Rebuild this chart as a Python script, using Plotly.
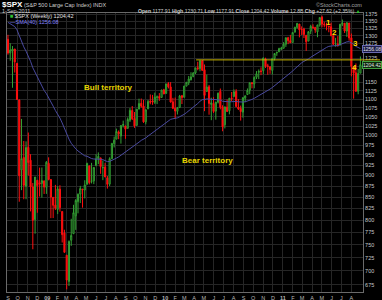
import math
import pandas as pd
import plotly.graph_objects as go

# ---------------- data (weekly S&P 500, week starting Monday) ----------------
first_week = "2008-09-01"
n_weeks = 157

opens = [
    1287.8, 1242.3, 1249.0, 1255.4, 1209.0, 1097.6, 912.8, 943.5, 874.3, 968.7,
    936.8, 873.2, 801.2, 888.6, 882.7, 881.1, 887.2, 872.4, 929.2, 890.4,
    849.6, 832.5, 823.1, 868.2, 818.5, 773.3, 729.6, 680.8, 758.8, 772.0,
    809.1, 839.8, 856.9, 868.3, 866.2, 879.2, 923.0, 886.1, 887.0, 923.3,
    940.4, 942.5, 918.1, 919.9, 894.3, 879.6, 940.4, 978.6, 990.2, 1008.9,
    998.2, 1026.6, 1025.2, 1018.7, 1040.8, 1067.9, 1045.4, 1026.9, 1071.6, 1088.2,
    1080.4, 1036.2, 1072.3, 1094.1, 1094.9, 1091.1, 1105.5, 1107.9, 1105.0, 1127.5,
    1116.6, 1146.0, 1136.0, 1092.4, 1073.9, 1065.5, 1076.0, 1110.0, 1105.4, 1138.4,
    1148.5, 1157.2, 1167.7, 1178.7, 1194.9, 1192.1, 1217.1, 1188.6, 1122.3, 1136.5,
    1084.8, 1087.3, 1065.8, 1091.2, 1122.8, 1077.5, 1028.1, 1077.2, 1066.9, 1102.9,
    1107.5, 1122.8, 1077.5, 1073.4, 1062.9, 1102.6, 1113.4, 1126.6, 1148.6, 1145.0,
    1165.3, 1180.5, 1184.7, 1185.7, 1223.2, 1200.4, 1198.1, 1186.6, 1223.9, 1242.5,
    1245.8, 1254.7, 1257.6, 1271.0, 1293.2, 1283.3, 1276.5, 1311.9, 1328.7, 1340.4,
    1321.6, 1322.7, 1301.2, 1281.7, 1315.5, 1329.5, 1329.0, 1313.4, 1337.1, 1365.2,
    1340.2, 1334.8, 1333.1, 1331.1, 1300.3, 1271.3, 1271.5, 1268.4, 1339.6, 1343.3,
    1315.9, 1344.3, 1292.6, 1198.5, 1179.2, 1123.2, 1177.9]

highs = [
    1303.0, 1274.4, 1265.0, 1255.4, 1209.0, 1099.2, 1044.3, 985.4, 984.4, 1007.5,
    951.7, 882.3, 896.2, 888.6, 918.6, 918.9, 887.4, 934.7, 943.9, 890.4,
    849.6, 877.9, 875.0, 877.0, 818.5, 780.1, 729.6, 758.3, 803.0, 833.0,
    845.6, 858.1, 875.6, 868.3, 888.7, 930.2, 923.0, 930.2, 920.0, 951.7,
    956.2, 942.5, 936.0, 930.2, 898.7, 944.0, 979.4, 996.7, 1018.0, 1013.1,
    1027.6, 1039.5, 1025.2, 1048.2, 1074.8, 1080.2, 1063.4, 1071.5, 1101.4, 1101.8,
    1097.8, 1071.5, 1097.6, 1113.7, 1112.4, 1119.1, 1110.7, 1117.7, 1128.0, 1130.4,
    1145.4, 1150.4, 1150.5, 1103.7, 1104.7, 1077.6, 1112.4, 1112.3, 1139.0, 1150.2,
    1169.2, 1180.7, 1181.4, 1194.7, 1213.9, 1217.3, 1219.8, 1205.1, 1173.6, 1141.9,
    1104.3, 1105.7, 1092.2, 1119.1, 1131.2, 1082.6, 1078.2, 1099.1, 1103.5, 1121.0,
    1128.7, 1129.2, 1100.1, 1081.6, 1105.1, 1110.9, 1131.5, 1148.9, 1150.3, 1167.7,
    1184.4, 1189.4, 1196.1, 1227.1, 1226.8, 1207.4, 1198.9, 1225.6, 1240.9, 1246.7,
    1259.4, 1262.6, 1278.2, 1293.2, 1296.1, 1302.7, 1311.0, 1330.8, 1344.1, 1340.4,
    1332.3, 1327.7, 1301.2, 1315.1, 1337.9, 1339.5, 1329.0, 1337.5, 1364.6, 1370.6,
    1348.4, 1345.1, 1333.1, 1345.2, 1300.3, 1292.5, 1298.6, 1341.0, 1356.5, 1343.3,
    1347.0, 1344.3, 1307.4, 1198.5, 1208.5, 1190.7, 1230.7]

lows = [
    1236.8, 1217.2, 1133.5, 1179.8, 1097.6, 839.8, 865.8, 845.3, 845.3, 899.7,
    818.7, 741.0, 772.1, 815.7, 851.4, 849.0, 857.1, 857.3, 888.3, 804.3,
    804.5, 821.7, 812.9, 818.1, 754.3, 734.5, 666.8, 672.9, 747.7, 772.0,
    779.8, 814.5, 836.9, 826.8, 847.1, 879.2, 878.9, 881.2, 879.6, 923.3,
    927.0, 903.8, 888.9, 895.9, 869.3, 875.3, 940.4, 968.7, 990.2, 990.0,
    978.5, 1021.0, 991.0, 1017.9, 1036.0, 1041.2, 1020.0, 1025.2, 1071.6, 1075.7,
    1033.4, 1029.4, 1072.3, 1085.3, 1083.7, 1086.3, 1085.9, 1095.0, 1105.0, 1114.8,
    1116.6, 1131.4, 1090.2, 1071.6, 1044.5, 1056.5, 1076.0, 1086.0, 1105.4, 1138.4,
    1141.5, 1156.0, 1165.1, 1175.1, 1186.9, 1183.7, 1185.5, 1065.8, 1122.3, 1055.9,
    1040.8, 1060.7, 1042.2, 1087.7, 1071.0, 1010.9, 1018.4, 1063.3, 1056.9, 1094.7,
    1107.5, 1076.6, 1069.3, 1039.7, 1047.8, 1091.2, 1113.4, 1114.6, 1131.9, 1131.9,
    1159.7, 1159.7, 1171.7, 1174.3, 1194.1, 1173.0, 1176.0, 1173.6, 1218.2, 1232.9,
    1245.8, 1251.5, 1257.6, 1262.2, 1271.3, 1275.1, 1276.5, 1311.7, 1324.6, 1294.3,
    1302.6, 1292.0, 1249.1, 1281.7, 1305.3, 1322.9, 1309.6, 1294.7, 1331.1, 1329.2,
    1329.2, 1318.5, 1311.8, 1297.9, 1268.5, 1262.7, 1262.9, 1267.6, 1333.2, 1309.4,
    1295.9, 1282.9, 1168.1, 1101.5, 1121.1, 1114.2, 1177.9]

closes = [
    1242.3, 1251.7, 1255.1, 1213.3, 1099.2, 899.2, 940.6, 876.8, 968.8, 931.0,
    873.3, 800.0, 896.2, 876.1, 879.7, 887.9, 872.8, 931.8, 890.4, 850.1,
    832.0, 825.9, 868.6, 826.8, 770.1, 735.1, 683.4, 756.6, 768.5, 815.9,
    842.5, 856.6, 869.6, 866.2, 877.5, 929.2, 882.9, 887.0, 919.1, 940.1,
    946.2, 921.2, 918.9, 896.4, 879.1, 940.4, 979.3, 987.5, 1010.5, 1004.1,
    1026.1, 1028.9, 1016.4, 1042.7, 1068.3, 1044.4, 1025.2, 1071.5, 1087.7, 1079.6,
    1036.2, 1069.3, 1093.5, 1091.4, 1091.5, 1106.0, 1106.4, 1102.5, 1126.5, 1115.1,
    1145.0, 1136.0, 1091.8, 1073.9, 1066.2, 1075.5, 1109.2, 1104.5, 1138.7, 1150.0,
    1159.9, 1166.6, 1178.1, 1194.4, 1192.1, 1217.3, 1186.7, 1110.9, 1135.7, 1087.7,
    1089.4, 1064.9, 1091.6, 1117.5, 1076.8, 1022.6, 1078.0, 1064.9, 1102.7, 1101.6,
    1121.6, 1079.3, 1071.7, 1064.6, 1104.5, 1109.6, 1125.6, 1148.7, 1146.2, 1165.2,
    1176.2, 1183.1, 1183.3, 1225.9, 1199.2, 1199.7, 1189.4, 1224.7, 1240.4, 1243.9,
    1256.8, 1257.6, 1271.5, 1293.2, 1283.4, 1276.3, 1310.9, 1329.2, 1343.0, 1319.9,
    1321.2, 1304.3, 1279.2, 1313.8, 1332.4, 1328.2, 1319.7, 1337.4, 1363.6, 1340.2,
    1337.8, 1333.3, 1331.1, 1300.2, 1271.0, 1271.5, 1268.5, 1339.7, 1343.8, 1316.1,
    1345.0, 1292.3, 1199.4, 1178.8, 1123.5, 1176.8, 1204.4]

# weekly closes before the visible window (used only to warm up the moving average)
prior_closes = [
    1504.7, 1468.0, 1484.5, 1478.5, 1411.6, 1401.0, 1325.2, 1330.6, 1395.4, 1331.3,
    1350.0, 1353.1, 1330.6, 1293.4, 1288.1, 1329.5, 1315.2, 1370.4, 1332.8, 1390.3,
    1397.8, 1413.9, 1388.3, 1425.4, 1375.9, 1400.4, 1360.7, 1360.0, 1317.9, 1278.4,
    1262.9, 1239.5, 1260.7, 1257.8, 1260.3, 1296.3, 1298.2, 1292.2, 1282.8]
ma_period = 40

month_starts = pd.date_range("2008-09-01", "2011-08-01", freq="MS")
month_labels = ["S", "O", "N", "D", "<b>09</b>", "F", "M", "A", "M", "J", "J", "A",
                "S", "O", "N", "D", "<b>10</b>", "F", "M", "A", "M", "J", "J", "A",
                "S", "O", "N", "D", "<b>11</b>", "F", "M", "A", "M", "J", "J", "A"]
price_ticks = [675, 700, 725, 750, 775, 800, 825, 850, 875, 900, 925, 950, 975, 1000,
               1025, 1050, 1075, 1100, 1125, 1150, 1175, 1200, 1225, 1250, 1275,
               1300, 1325, 1350, 1375]
hidden_ticks = [1175, 1200, 1250]  # covered by the value tags

resistance_level = 1219.8
resistance_start = "2010-04-07"

header = dict(symbol="$SPX", name="(S&P 500 Large Cap Index) INDX", date="1-Sep-2011",
              open="1177.91", high="1230.71", low="1177.91", close="1204.42",
              volume="12.8B", chg="+27.62 (+2.35%)", ma_last="1256.08")

# ---------------- figure ----------------
dates = pd.date_range(first_week, periods=n_weeks, freq="7D")
x_range = [pd.Timestamp("2008-08-29"), pd.Timestamp("2011-09-06")]
y_range = [662.2, 1380.0]

all_closes = pd.Series(prior_closes + closes)
ma = all_closes.ewm(span=ma_period, adjust=False).mean().iloc[len(prior_closes):].values

fig = go.Figure()
fig.add_trace(go.Candlestick(
    x=dates, open=opens, high=highs, low=lows, close=closes,
    increasing=dict(line=dict(color="#34a234", width=1), fillcolor="#000000"),
    decreasing=dict(line=dict(color="#ff1010", width=1), fillcolor="#ff0000"),
    whiskerwidth=0, showlegend=False, hoverinfo="skip"))
fig.add_trace(go.Scatter(x=dates, y=ma, mode="lines",
                         line=dict(color="#4a4aa0", width=1),
                         showlegend=False, hoverinfo="skip"))

PL, PR, PT, PB = 7, 363, 13, 292
W, H = 382, 300


def fx(p):
    return (p - PL) / (PR - PL)


def fy(p):
    return (PB - p) / (PB - PT)


def date_frac(d):
    d = pd.Timestamp(d)
    return (d - x_range[0]) / (x_range[1] - x_range[0])


def price_frac(v):
    lo, hi = math.log10(y_range[0]), math.log10(y_range[1])
    return (math.log10(v) - lo) / (hi - lo)


shapes = [
    dict(type="line", xref="paper", yref="paper",
         x0=date_frac(resistance_start), x1=fx(380),
         y0=price_frac(resistance_level), y1=price_frac(resistance_level),
         line=dict(color="#c8b400", width=1), layer="above"),
    dict(type="line", xref="paper", yref="paper", x0=fx(0), x1=fx(PL),
         y0=1, y1=1, line=dict(color="#6a6a6a", width=1)),
]

FONT = "Liberation Sans"
ann = []


def txt(x, y, text, size=6, color="#cfcfcf", xanchor="left", bold=False, **kw):
    ann.append(dict(xref="paper", yref="paper", x=fx(x), y=fy(y), text=(f"<b>{text}</b>" if bold else text),
                    showarrow=False, xanchor=xanchor, yanchor="middle",
                    font=dict(family=FONT, size=size, color=color), **kw))


# header
txt(0, 4, header["symbol"], size=8, color="#ffffff", bold=True)
txt(22, 4.5, header["name"], size=5.5, color="#cfcfcf")
txt(0, 10.8, header["date"], size=5.5, color="#cfcfcf")
txt(364, 4.5, "©StockCharts.com", size=5.5, color="#a0a0a0", xanchor="right")
info = (f"<b>Open</b> {header['open']} <b>High</b> {header['high']} <b>Low</b> {header['low']} "
        f"<b>Close</b> {header['close']} <b>Volume</b> {header['volume']} <b>Chg</b> {header['chg']} "
        f"<span style='color:#30c030'>▲</span>")
txt(363, 10.5, info, size=5.1, color="#cfcfcf", xanchor="right")

# in-plot legend
txt(8, 16.5, "<span style='color:#30c030'>■</span> $SPX (Weekly) " + header["close"], size=5.5, color="#e0e0e0")
txt(8, 21.5, "—SMA(" + str(ma_period) + ") " + header["ma_last"], size=5.5, color="#8080ff")

# region labels
ann.append(dict(x=pd.Timestamp("2009-07-09"), y=math.log10(1133.6), xref="x", yref="y",
                text="<b>Bull territory</b>", showarrow=False,
                font=dict(family=FONT, size=8, color="#e6d400")))
ann.append(dict(x=pd.Timestamp("2010-05-13"), y=math.log10(936), xref="x", yref="y",
                text="<b>Bear territory</b>", showarrow=False,
                font=dict(family=FONT, size=8, color="#e6d400")))
for lab, d, v in [("1", "2011-05-22", 1346), ("2", "2011-06-10", 1311),
                  ("3", "2011-08-13", 1273), ("4", "2011-08-10", 1195)]:
    ann.append(dict(x=pd.Timestamp(d), y=math.log10(v), xref="x", yref="y",
                    text=f"<b>{lab}</b>", showarrow=False,
                    font=dict(family=FONT, size=8, color="#ffd800")))

# value tags on the right axis
for val, bg, bd in [(float(header["ma_last"]), "#1c1c48", "#6a6ab0"),
                    (float(header["close"]), "#0c2a0c", "#40a040")]:
    ann.append(dict(xref="paper", yref="y", x=fx(381.5), y=math.log10(val),
                    text=f"{val:.2f}", showarrow=False, xanchor="right", yanchor="middle",
                    bgcolor=bg, bordercolor=bd, borderwidth=1, borderpad=0,
                    font=dict(family=FONT, size=5, color="#e0e0e0")))

fig.update_layout(
    width=W, height=H, margin=dict(l=PL, r=W - PR, t=PT, b=H - PB, autoexpand=False),
    paper_bgcolor="#000000", plot_bgcolor="#000000",
    shapes=shapes, annotations=ann,
    xaxis=dict(type="date", range=x_range, rangeslider=dict(visible=False),
               tickvals=month_starts, ticktext=month_labels, ticks="",
               tickfont=dict(family=FONT, size=5.5, color="#b8b8b8"),
               showgrid=True, gridcolor="#262626", gridwidth=1,
               showline=True, mirror=True, linecolor="#6a6a6a", linewidth=1,
               zeroline=False, automargin=False),
    yaxis=dict(type="log", range=[math.log10(y_range[0]), math.log10(y_range[1])],
               side="right", tickvals=price_ticks,
               ticktext=["" if t in hidden_ticks else str(t) for t in price_ticks],
               ticks="", tickfont=dict(family=FONT, size=5.5, color="#c8c8c8"),
               showgrid=True, gridcolor="#262626", gridwidth=1,
               showline=True, mirror=True, linecolor="#6a6a6a", linewidth=1,
               zeroline=False, automargin=False),
    font=dict(family=FONT),
)

fig.write_html("out.html")
